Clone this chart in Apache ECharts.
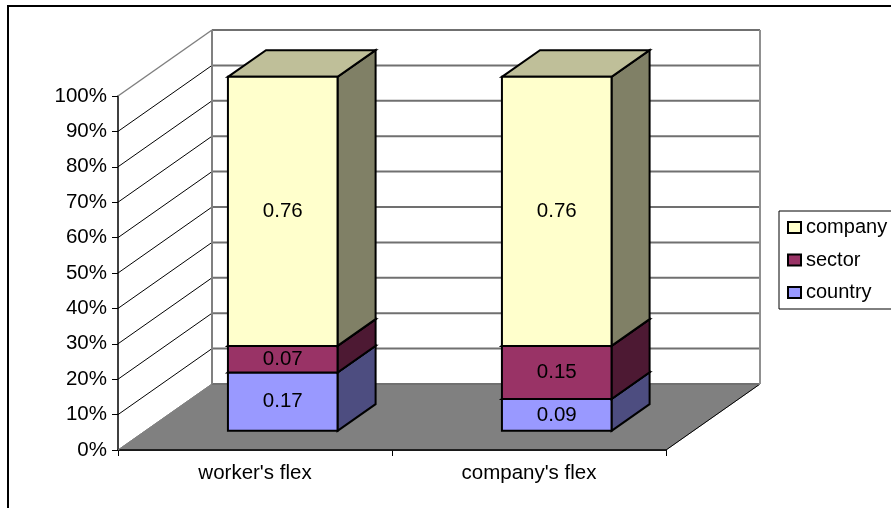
<!DOCTYPE html>
<html><head><meta charset="utf-8">
<style>html,body{margin:0;padding:0;background:#fff}#c{width:891px;height:508px}</style>
<script src="https://cdn.jsdelivr.net/npm/echarts@6/dist/echarts.min.js"></script>
</head><body><div id="c"></div>
<script>
const categories = ["worker's flex", "company's flex"];
const country = [0.165, 0.09];
const sector = [0.075, 0.15];
const company = [0.76, 0.76];
const yTicks = [0,0.1,0.2,0.3,0.4,0.5,0.6,0.7,0.8,0.9,1];

const FONT = 'Liberation Sans', FS = 20.5, LEGEND_FS = 20;
const DX = 94, DY = -66;
const chart = echarts.init(document.getElementById('c'));

function poly(pts, fill, stroke, w){
  return {type:'polygon', shape:{points:pts}, style:{fill:fill, stroke:stroke||'#000', lineWidth:w==null?2:w, lineJoin:'miter'}};
}
function line(a,b,stroke,w){
  return {type:'line', shape:{x1:a[0],y1:a[1],x2:b[0],y2:b[1]}, style:{stroke:stroke,lineWidth:w,fill:null}};
}
function renderWalls(params, api){
  const kids=[];
  const p0=api.coord([0,0]), bw=api.size([1,0])[0];
  const x0=p0[0]-bw/2, x1=x0+2*bw, y0=p0[1], yt=api.coord([0,1])[1];
  kids.push(poly([[x0,y0],[x0+DX,y0+DY],[x1+DX,y0+DY],[x1,y0]],'#808080','#808080',1));
  kids.push(line([x0,y0],[x1,y0],'#000',1.5));
  kids.push(line([x1,y0],[x1+DX,y0+DY],'#000',1));
  yTicks.forEach(function(t){
    const y=api.coord([0,t])[1];
    const top=t===1;
    kids.push(line([x0,y],[x0+DX,y+DY],(top||t===0)?'#808080':'#000',top?1.5:1));
    kids.push(line([x0+DX,y+DY],[x1+DX,y+DY],'#707070',2));
  });
  kids.push(line([x0+DX,y0+DY],[x0+DX,yt+DY],'#808080',2));
  kids.push(line([x1+DX,y0+DY],[x1+DX,yt+DY],'#909090',2));
  return {type:'group',children:kids};
}
function barRender(vals, bases, front, top, side){
  return function(params, api){
    const i=api.value(0), c=api.coord([i,0]), bw=api.size([1,0])[0];
    const base=bases[i], v=vals[i];
    const w=bw*0.4, ox=DX*0.295, oy=DY*0.29, dx=DX*0.405, dy=DY*0.405;
    const xl=c[0]-w/2+ox, xr=xl+w;
    const yb=api.coord([i,base])[1]+oy, yt=api.coord([i,base+v])[1]+oy;
    return {type:'group',children:[
      poly([[xr,yb],[xr+dx,yb+dy],[xr+dx,yt+dy],[xr,yt]],side),
      poly([[xl,yt],[xl+dx,yt+dy],[xr+dx,yt+dy],[xr,yt]],top),
      {type:'rect',shape:{x:xl,y:yt,width:w,height:yb-yt},style:{fill:front,stroke:'#000',lineWidth:2}},
      {type:'text',x:(xl+xr)/2,y:(yb+yt)/2,style:{text:v.toFixed(2),fill:'#000',font:FS+'px "'+FONT+'"',align:'center',verticalAlign:'middle'}}
    ]};
  };
}
const base2 = country.map(function(v,i){return v+sector[i];});
const zeros = country.map(function(){return 0;});
const idx = categories.map(function(_,i){return [i];});

chart.setOption({
  animation:false,
  backgroundColor:'#fff',
  graphic:[{type:'rect',silent:true,z:-1,shape:{x:8,y:6,width:900,height:520},style:{fill:'#fff',stroke:'#000',lineWidth:2}}],
  grid:{left:118,right:225,top:96,bottom:58,containLabel:false},
  xAxis:{type:'category',data:categories,axisLine:{lineStyle:{color:'#000',width:1.5}},
    axisTick:{show:true,length:6,alignWithLabel:false,lineStyle:{color:'#000'}},
    axisLabel:{color:'#000',fontFamily:FONT,fontSize:FS,margin:13},splitLine:{show:false}},
  yAxis:{type:'value',min:0,max:1,interval:0.1,
    axisLine:{show:true,lineStyle:{color:'#000',width:1.5}},
    axisTick:{show:true,length:6,lineStyle:{color:'#000'}},
    axisLabel:{color:'#000',fontFamily:FONT,fontSize:FS,margin:11,formatter:function(v){return Math.round(v*100)+'%';}},
    splitLine:{show:false}},
  legend:{orient:'vertical',left:779,top:211,itemWidth:13,itemHeight:11,itemGap:12.5,padding:[6.5,16,6.5,8],
    borderColor:'#000',borderWidth:1,backgroundColor:'#fff',icon:'rect',
    textStyle:{color:'#000',fontFamily:FONT,fontSize:LEGEND_FS},
    data:['company','sector','country']},
  series:[
    {type:'custom',name:'walls',coordinateSystem:'cartesian2d',data:[[0]],z:1,silent:true,renderItem:renderWalls,encode:{x:0},clip:false},
    {type:'custom',name:'country',data:idx,z:2,renderItem:barRender(country,zeros,'#9999FF','#7A7ACC','#4D4D80'),encode:{x:0},itemStyle:{color:'#9999FF',borderColor:'#000',borderWidth:2},clip:false},
    {type:'custom',name:'sector',data:idx,z:3,renderItem:barRender(sector,country,'#993366','#7A2952','#4D1933'),encode:{x:0},itemStyle:{color:'#993366',borderColor:'#000',borderWidth:2},clip:false},
    {type:'custom',name:'company',data:idx,z:4,renderItem:barRender(company,base2,'#FFFFCC','#BFBF99','#808066'),encode:{x:0},itemStyle:{color:'#FFFFCC',borderColor:'#000',borderWidth:2},clip:false}
  ]
});
</script></body></html>
